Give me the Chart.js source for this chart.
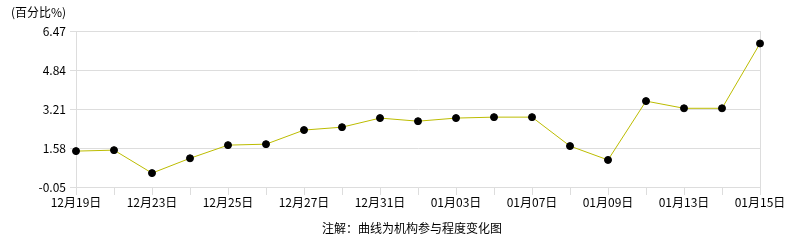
<!DOCTYPE html>
<html>
<head>
<meta charset="utf-8">
<script src="https://cdn.jsdelivr.net/npm/chart.js@4/dist/chart.umd.min.js"></script>
<style>
    body { margin: 0; background: #fff; }
    #wrap { position: relative; width: 786px; height: 240px; }
    .txt { position: absolute; font: 12px "Noto Sans CJK SC", sans-serif; color: #000; white-space: nowrap; line-height: 14px; }
    #unit { left: 11px; top: 5px; }
    #note { left: 322px; top: 221px; }
</style>
</head>
<body>
<div id="wrap">
    <canvas id="chart" width="786" height="240"></canvas>
    <div class="txt" id="unit">(百分比%)</div>
    <div class="txt" id="note">注解：曲线为机构参与程度变化图</div>
</div>
<script>
// 日期与机构参与程度 (百分比)
const dates = ['12月19日', '12月20日', '12月23日', '12月24日', '12月25日', '12月26日', '12月27日', '12月30日', '12月31日', '01月02日',
    '01月03日', '01月06日', '01月07日', '01月08日', '01月09日', '01月10日', '01月13日', '01月14日', '01月15日'];
const values = [1.45, 1.49, 0.53, 1.15, 1.70, 1.74, 2.33, 2.45, 2.83, 2.70,
    2.83, 2.87, 2.87, 1.66, 1.08, 3.54, 3.24, 3.24, 5.95];
const yTicks = [-0.05, 1.58, 3.21, 4.84, 6.47];

const font = { family: '"Noto Sans CJK SC", sans-serif', size: 12 };
const gridColor = '#dddddd';

new Chart(document.getElementById('chart'), {
    type: 'line',
    data: {
        labels: dates,
        datasets: [{
            data: values,
            borderColor: '#bcbc00',
            borderWidth: 1,
            backgroundColor: '#000',
            pointBackgroundColor: '#000',
            pointBorderColor: '#000',
            pointRadius: 3.5,
            tension: 0,
            fill: false
        }]
    },
    options: {
        responsive: false,
        animation: false,
        layout: { padding: { top: 31, right: 26, left: 0, bottom: 0 } },
        plugins: {
            legend: { display: false },
            tooltip: { enabled: false }
        },
        scales: {
            x: {
                offset: false,
                grid: {
                    drawOnChartArea: true,
                    color: ctx => ctx.index === dates.length - 1 ? gridColor : 'rgba(0,0,0,0)',
                    tickColor: gridColor,
                    tickLength: 8
                },
                border: { color: gridColor },
                ticks: {
                    autoSkip: false,
                    maxRotation: 0,
                    padding: 0,
                    color: '#000',
                    font: font,
                    callback: (v, i) => i % 2 === 0 ? dates[i] : ''
                },
                afterFit: scale => { scale.height = 53; }
            },
            y: {
                min: -0.05,
                max: 6.47,
                afterBuildTicks: scale => { scale.ticks = yTicks.map(v => ({ value: v })); },
                grid: { color: gridColor, tickLength: 6 },
                border: { color: gridColor },
                ticks: {
                    padding: 4,
                    color: '#000',
                    font: font,
                    callback: v => v.toFixed(2)
                },
                afterFit: scale => { scale.width = 76; }
            }
        }
    }
});
</script>
</body>
</html>
